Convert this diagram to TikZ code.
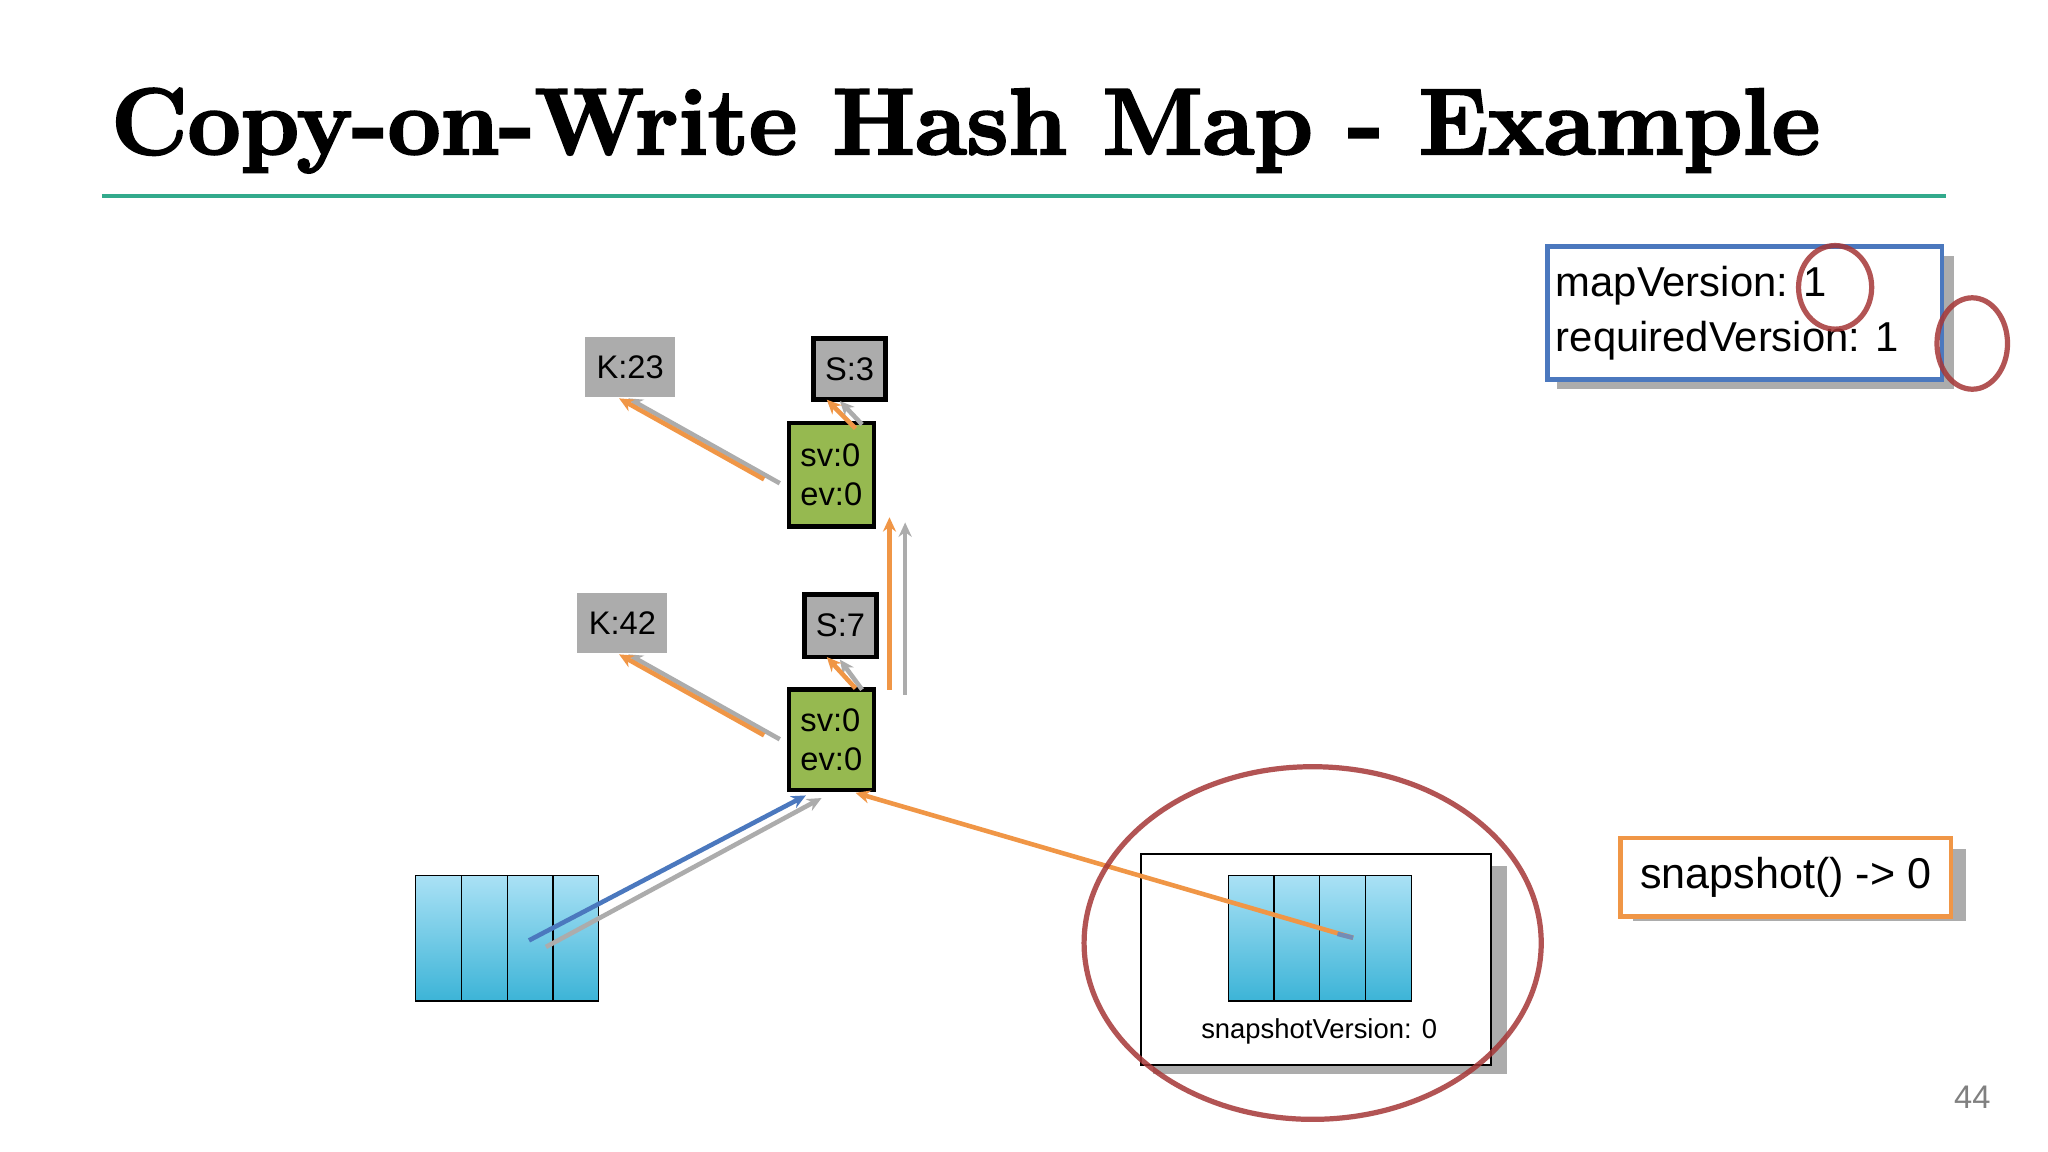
\documentclass[tikz,border=0pt]{standalone}
\usepackage{fontspec}
\setmainfont{Liberation Sans}
\newfontfamily\titlefont[FakeBold=2.5]{Latin Modern Roman}
\usetikzlibrary{arrows.meta}
\definecolor{teal1}{RGB}{50,170,140}
\definecolor{grn}{RGB}{150,185,80}
\definecolor{gbox}{RGB}{172,172,172}
\definecolor{org}{RGB}{240,150,70}
\definecolor{blu}{RGB}{75,120,190}
\definecolor{redc}{RGB}{165,55,55}
\definecolor{cyanT}{RGB}{170,225,245}
\definecolor{cyanB}{RGB}{60,180,215}
\begin{document}
\begin{tikzpicture}[x=1pt,y=-1pt,
 lbl/.style={font=\fontsize{25}{28}\selectfont},
 arr/.style={line width=3.5pt,-{Stealth[length=11pt,width=10pt]}},
 garr/.style={arr,draw=gbox},
 oarr/.style={arr,draw=org},
 cell/.style={draw=black,top color=cyanT,bottom color=cyanB,line width=0.8pt}]
\useasboundingbox (0,0) rectangle (1568,882);
\fill[white] (0,0) rectangle (1568,882);
\node[anchor=west,inner sep=0] (title) at (85,100) {\titlefont\bfseries\fontsize{72}{80}\selectfont Copy-on-Write Hash Map - Example};
\draw[teal1,line width=3.5pt] (78,150) -- (1490,150);
% key/state boxes
\node[fill=gbox,minimum width=69,minimum height=46,inner sep=0,lbl] (k23) at (482.5,281) {K:23};
\node[fill=gbox,draw=black,line width=3.5pt,minimum width=55,minimum height=47,inner sep=0,lbl] (s3) at (650.5,282.5) {S:3};
\node[fill=grn,draw=black,line width=3.5pt,minimum width=65,minimum height=79,inner sep=0,lbl,align=left] (g1) at (636.5,363.5) {sv:0\\[2pt]ev:0};
\node[fill=gbox,minimum width=69,minimum height=46,inner sep=0,lbl] (k42) at (476.5,477) {K:42};
\node[fill=gbox,draw=black,line width=3.5pt,minimum width=55,minimum height=48,inner sep=0,lbl] (s7) at (643.5,479) {S:7};
\node[fill=grn,draw=black,line width=3.5pt,minimum width=65,minimum height=77,inner sep=0,lbl,align=left] (g2) at (636.5,566.5) {sv:0\\[2pt]ev:0};
% left array
\foreach \i in {0,1,2,3}{\node[cell,minimum width=35,minimum height=96,inner sep=0,anchor=north west] (a\i) at (318+35*\i,670) {};}
% snapshot box
\fill[gbox] (883,663) rectangle (1154,822);
\node[draw=black,fill=white,line width=1.5pt,minimum width=268,minimum height=162,inner sep=0,anchor=north west] (snap) at (873,653) {};
\foreach \i in {0,1,2,3}{\node[cell,minimum width=35,minimum height=96,inner sep=0,anchor=north west] (b\i) at (940+35*\i,670) {};}
\node[font=\fontsize{21}{24}\selectfont] (sv) at (1010,790) {snapshotVersion: 0};
% arrows
\coordinate (p1) at (597,370); \coordinate (p2) at (585,367);
\draw[garr] (p1) -- (481,305);
\draw[oarr] (p2) -- (474,305);
\draw[garr] (660,325) -- (643,307);
\draw[oarr] (655,328) -- (633,306);
\coordinate (v1) at (681,528); \coordinate (v2) at (693,532);
\draw[garr] (v2) -- (693,400);
\draw[oarr] (v1) -- (681,396);
\coordinate (p3) at (597,566); \coordinate (p4) at (585,563);
\draw[garr] (p3) -- (481,501);
\draw[oarr] (p4) -- (474,501);
\draw[garr] (660,528) -- (643,505);
\draw[oarr] (655,527) -- (633,503);
\coordinate (q1) at (418,725); \coordinate (q2) at (405,720);
\draw[garr] (q1) -- (629,611);
\draw[arr,draw=blu] (q2) -- (617,609);
\coordinate (r1) at (1036,718);
\draw[oarr] (r1) -- (655,607);
\draw[line width=3.5pt,blu!60!gbox] (1024,715) -- (1036,718);
% red circle
\draw[redc,line width=4pt,opacity=0.85] (1005,722) ellipse (175 and 135);
% map version box
\fill[gbox] (1192,196) rectangle (1496,298);
\node[draw=blu,fill=white,line width=3.5pt,minimum width=302,minimum height=102,inner sep=0,anchor=north west] (mv) at (1183,187) {};
\node[anchor=west,align=left,inner sep=0,font=\fontsize{32}{42}\selectfont] (mvt) at (1191,240) {mapVersion: 1\\requiredVersion: 1};
\draw[redc,line width=4pt,opacity=0.85] (1405,220) ellipse (28 and 32);
\draw[redc,line width=4pt,opacity=0.85] (1510,263) ellipse (27 and 35);
% snapshot call box
\fill[gbox] (1250,650) rectangle (1505,705);
\node[draw=org,fill=white,line width=3.5pt,minimum width=253,minimum height=60,inner sep=0,anchor=north west,font=\fontsize{33}{36}\selectfont] (sc) at (1239,640) {snapshot() -> 0};
\node[text=gray,font=\fontsize{25}{28}\selectfont] (pg) at (1510,840) {44};
\end{tikzpicture}
\end{document}
